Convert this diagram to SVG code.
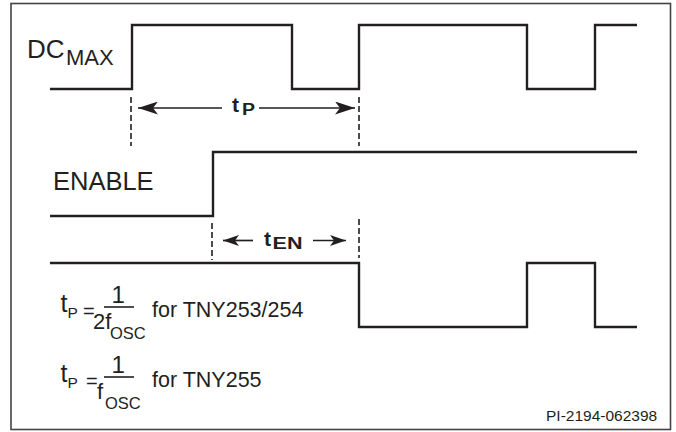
<svg xmlns="http://www.w3.org/2000/svg" width="676" height="432" viewBox="0 0 676 432">
  <style>
    .frame { fill: #fff; stroke: #444; stroke-width: 1.6; }
    .wave { fill: none; stroke: #231f20; stroke-width: 2.4; stroke-linejoin: miter; }
    .dash { fill: none; stroke: #231f20; stroke-width: 1.6; stroke-dasharray: 6 3; }
    .arrow { fill: none; stroke: #231f20; stroke-width: 1.7; }
    .bar { stroke: #231f20; stroke-width: 1.6; }
    text { font-family: "Liberation Sans", Arial, Helvetica, sans-serif; fill: #231f20; }
    .b { font-weight: bold; }
  </style>
  <defs>
    <marker id="ahBig" markerUnits="userSpaceOnUse" viewBox="0 0 20 13" refX="20" refY="6.5" markerWidth="20" markerHeight="13" orient="auto">
      <path d="M0,0 L20,6.5 L0,13 L5,6.5 z" fill="#231f20"/>
    </marker>
    <marker id="ahSmall" markerUnits="userSpaceOnUse" viewBox="0 0 16 11" refX="16" refY="5.5" markerWidth="16" markerHeight="11" orient="auto">
      <path d="M0,0 L16,5.5 L0,11 L4,5.5 z" fill="#231f20"/>
    </marker>
  </defs>

  <rect class="frame" x="11" y="3.5" width="659.5" height="426"/>

  <g id="dcmax">
    <path class="wave" d="M50 89 H132 V25 H292 V89 H359 V25 H527 V89 H595 V25 H637"/>
    <text x="27" y="58" font-size="26">DC</text>
    <text x="66" y="65" font-size="22">MAX</text>
  </g>

  <g id="enable">
    <path class="wave" d="M50 216 H213 V152 H637"/>
    <text x="53" y="190" font-size="25.5">ENABLE</text>
  </g>

  <g id="output">
    <path class="wave" d="M50 263 H359 V327 H527 V263 H595 V327 H637"/>
  </g>

  <g id="connectors">
    <line class="dash" x1="131" y1="97" x2="131" y2="146"/>
    <line class="dash" x1="359" y1="97" x2="359" y2="146"/>
    <line class="dash" x1="212" y1="223" x2="212" y2="260"/>
    <line class="dash" x1="359" y1="219" x2="359" y2="258"/>
    <line class="arrow" x1="222" y1="108" x2="138" y2="108" marker-end="url(#ahBig)"/>
    <line class="arrow" x1="259" y1="108" x2="355" y2="108" marker-end="url(#ahBig)"/>
    <line class="arrow" x1="253" y1="240.5" x2="223" y2="240.5" marker-end="url(#ahSmall)"/>
    <line class="arrow" x1="313" y1="240.5" x2="346" y2="240.5" marker-end="url(#ahSmall)"/>
  </g>

  <g id="tp-label">
    <text class="b" x="232" y="111.5" font-size="21">t</text>
    <text class="b" x="242" y="114.5" font-size="16" textLength="13" lengthAdjust="spacingAndGlyphs">P</text>
  </g>

  <g id="ten-label">
    <text class="b" x="264" y="245.5" font-size="21">t</text>
    <text class="b" x="272.5" y="248.5" font-size="17" textLength="30" lengthAdjust="spacingAndGlyphs">EN</text>
  </g>

  <g id="formula1">
    <text x="60.5" y="312" font-size="25">t</text>
    <text x="67.5" y="317.5" font-size="15.5">P</text>
    <text x="83" y="317.5" font-size="20">=</text>
    <text x="111.5" y="302.5" font-size="24">1</text>
    <line class="bar" x1="104" y1="307" x2="134" y2="307"/>
    <text x="93" y="328.5" font-size="22">2f</text>
    <text x="110" y="338.5" font-size="16.5">OSC</text>
    <text x="152" y="317" font-size="21.5">for TNY253/254</text>
  </g>

  <g id="formula2">
    <text x="60.5" y="382" font-size="25">t</text>
    <text x="67.5" y="387.5" font-size="15.5">P</text>
    <text x="86" y="388" font-size="20">=</text>
    <text x="111.5" y="372.5" font-size="24">1</text>
    <line class="bar" x1="104" y1="377" x2="134" y2="377"/>
    <text x="97" y="398.5" font-size="22">f</text>
    <text x="105" y="408.5" font-size="16.5">OSC</text>
    <text x="152" y="387" font-size="21.5">for TNY255</text>
  </g>

  <g id="code">
    <text x="546" y="420.5" font-size="15.5">PI-2194-062398</text>
  </g>
</svg>
